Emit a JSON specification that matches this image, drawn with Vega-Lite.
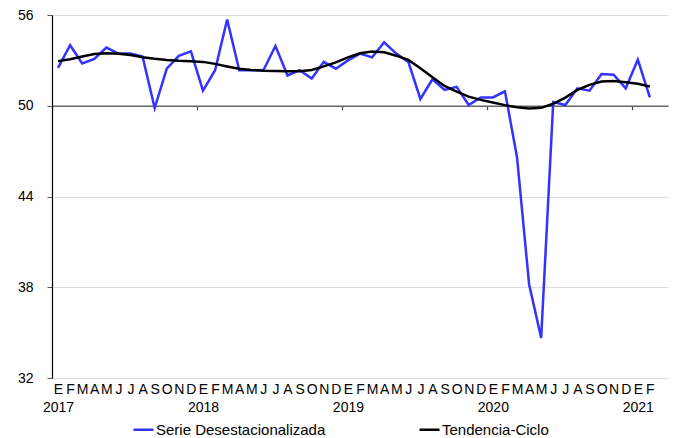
{
  "$schema": "https://vega.github.io/schema/vega-lite/v6.json",
  "width": 616,
  "height": 363,
  "autosize": {"type": "none"},
  "padding": {"left": 52, "top": 15, "right": 8, "bottom": 60},
  "background": "white",
  "config": {
    "view": {"stroke": null},
    "font": "Liberation Sans",
    "axis": {"labelFont": "Liberation Sans", "labelColor": "#000000", "titleFont": "Liberation Sans"},
    "legend": {"labelFont": "Liberation Sans"}
  },
  "data": {
    "values": [
      {"t": "2017-01", "Serie Desestacionalizada": 52.5, "Tendencia-Ciclo": 52.95},
      {"t": "2017-02", "Serie Desestacionalizada": 54.0, "Tendencia-Ciclo": 53.07},
      {"t": "2017-03", "Serie Desestacionalizada": 52.8, "Tendencia-Ciclo": 53.25},
      {"t": "2017-04", "Serie Desestacionalizada": 53.1, "Tendencia-Ciclo": 53.42},
      {"t": "2017-05", "Serie Desestacionalizada": 53.85, "Tendencia-Ciclo": 53.47},
      {"t": "2017-06", "Serie Desestacionalizada": 53.45, "Tendencia-Ciclo": 53.43},
      {"t": "2017-07", "Serie Desestacionalizada": 53.45, "Tendencia-Ciclo": 53.35},
      {"t": "2017-08", "Serie Desestacionalizada": 53.25, "Tendencia-Ciclo": 53.2},
      {"t": "2017-09", "Serie Desestacionalizada": 49.85, "Tendencia-Ciclo": 53.1},
      {"t": "2017-10", "Serie Desestacionalizada": 52.45, "Tendencia-Ciclo": 53.03},
      {"t": "2017-11", "Serie Desestacionalizada": 53.3, "Tendencia-Ciclo": 52.98},
      {"t": "2017-12", "Serie Desestacionalizada": 53.6, "Tendencia-Ciclo": 52.95},
      {"t": "2018-01", "Serie Desestacionalizada": 51.0, "Tendencia-Ciclo": 52.9},
      {"t": "2018-02", "Serie Desestacionalizada": 52.35, "Tendencia-Ciclo": 52.77},
      {"t": "2018-03", "Serie Desestacionalizada": 55.7, "Tendencia-Ciclo": 52.6},
      {"t": "2018-04", "Serie Desestacionalizada": 52.35, "Tendencia-Ciclo": 52.44},
      {"t": "2018-05", "Serie Desestacionalizada": 52.35, "Tendencia-Ciclo": 52.37},
      {"t": "2018-06", "Serie Desestacionalizada": 52.35, "Tendencia-Ciclo": 52.32},
      {"t": "2018-07", "Serie Desestacionalizada": 53.95, "Tendencia-Ciclo": 52.3},
      {"t": "2018-08", "Serie Desestacionalizada": 52.0, "Tendencia-Ciclo": 52.28},
      {"t": "2018-09", "Serie Desestacionalizada": 52.35, "Tendencia-Ciclo": 52.28},
      {"t": "2018-10", "Serie Desestacionalizada": 51.8, "Tendencia-Ciclo": 52.37},
      {"t": "2018-11", "Serie Desestacionalizada": 52.9, "Tendencia-Ciclo": 52.6},
      {"t": "2018-12", "Serie Desestacionalizada": 52.45, "Tendencia-Ciclo": 52.87},
      {"t": "2019-01", "Serie Desestacionalizada": 53.0, "Tendencia-Ciclo": 53.2},
      {"t": "2019-02", "Serie Desestacionalizada": 53.45, "Tendencia-Ciclo": 53.47},
      {"t": "2019-03", "Serie Desestacionalizada": 53.2, "Tendencia-Ciclo": 53.58},
      {"t": "2019-04", "Serie Desestacionalizada": 54.2, "Tendencia-Ciclo": 53.54},
      {"t": "2019-05", "Serie Desestacionalizada": 53.45, "Tendencia-Ciclo": 53.31},
      {"t": "2019-06", "Serie Desestacionalizada": 52.9, "Tendencia-Ciclo": 53.03},
      {"t": "2019-07", "Serie Desestacionalizada": 50.45, "Tendencia-Ciclo": 52.48},
      {"t": "2019-08", "Serie Desestacionalizada": 51.75, "Tendencia-Ciclo": 51.89},
      {"t": "2019-09", "Serie Desestacionalizada": 51.05, "Tendencia-Ciclo": 51.31},
      {"t": "2019-10", "Serie Desestacionalizada": 51.25, "Tendencia-Ciclo": 50.94},
      {"t": "2019-11", "Serie Desestacionalizada": 50.05, "Tendencia-Ciclo": 50.6},
      {"t": "2019-12", "Serie Desestacionalizada": 50.55, "Tendencia-Ciclo": 50.39},
      {"t": "2020-01", "Serie Desestacionalizada": 50.55, "Tendencia-Ciclo": 50.21},
      {"t": "2020-02", "Serie Desestacionalizada": 50.95, "Tendencia-Ciclo": 50.04},
      {"t": "2020-03", "Serie Desestacionalizada": 46.6, "Tendencia-Ciclo": 49.9},
      {"t": "2020-04", "Serie Desestacionalizada": 38.2, "Tendencia-Ciclo": 49.82},
      {"t": "2020-05", "Serie Desestacionalizada": 34.65, "Tendencia-Ciclo": 49.86},
      {"t": "2020-06", "Serie Desestacionalizada": 50.25, "Tendencia-Ciclo": 50.13},
      {"t": "2020-07", "Serie Desestacionalizada": 50.05, "Tendencia-Ciclo": 50.54},
      {"t": "2020-08", "Serie Desestacionalizada": 51.15, "Tendencia-Ciclo": 51.05},
      {"t": "2020-09", "Serie Desestacionalizada": 51.0, "Tendencia-Ciclo": 51.38},
      {"t": "2020-10", "Serie Desestacionalizada": 52.1, "Tendencia-Ciclo": 51.6},
      {"t": "2020-11", "Serie Desestacionalizada": 52.05, "Tendencia-Ciclo": 51.64},
      {"t": "2020-12", "Serie Desestacionalizada": 51.15, "Tendencia-Ciclo": 51.56},
      {"t": "2021-01", "Serie Desestacionalizada": 53.05, "Tendencia-Ciclo": 51.45},
      {"t": "2021-02", "Serie Desestacionalizada": 50.55, "Tendencia-Ciclo": 51.27}
    ]
  },
  "transform": [
    {"fold": ["Serie Desestacionalizada", "Tendencia-Ciclo"], "as": ["serie", "valor"]}
  ],
  "mark": {"type": "line", "strokeWidth": 2.5},
  "encoding": {
    "x": {
      "field": "t",
      "type": "ordinal",
      "sort": null,
      "scale": {
        "type": "band",
        "paddingInner": 0,
        "paddingOuter": 0,
        "domain": ["2017-01","2017-02","2017-03","2017-04","2017-05","2017-06","2017-07","2017-08","2017-09","2017-10","2017-11","2017-12","2018-01","2018-02","2018-03","2018-04","2018-05","2018-06","2018-07","2018-08","2018-09","2018-10","2018-11","2018-12","2019-01","2019-02","2019-03","2019-04","2019-05","2019-06","2019-07","2019-08","2019-09","2019-10","2019-11","2019-12","2020-01","2020-02","2020-03","2020-04","2020-05","2020-06","2020-07","2020-08","2020-09","2020-10","2020-11","2020-12","2021-01","2021-02","2021-03"]
      },
      "axis": {
        "title": null,
        "orient": "bottom",
        "offset": -272.25,
        "domainColor": "#666666",
        "domainWidth": 1.5,
        "grid": false,
        "tickColor": "#444444",
        "tickWidth": 1.2,
        "tickSize": 4,
        "tickOffset": -6.04,
        "labelOffset": 6.04,
        "tickOpacity": {"condition": {"test": "substring(datum.value, 5, 7) == '01'", "value": 1}, "value": 0},
        "labelPadding": 273,
        "labelFontSize": 14,
        "labelLineHeight": 18,
        "labelAngle": 0,
        "labelOverlap": false,
        "labelFlush": false,
        "labelBaseline": "top",
        "labelExpr": "datum.value == '2021-03' ? '' : (substring(datum.value, 5, 7) == '01' ? ['E', substring(datum.value, 0, 4)] : ['E','F','M','A','M','J','J','A','S','O','N','D'][toNumber(substring(datum.value, 5, 7)) - 1])"
      }
    },
    "y": {
      "field": "valor",
      "type": "quantitative",
      "scale": {"domain": [32, 56], "nice": false, "zero": false},
      "axis": {
        "title": null,
        "values": [32, 38, 44, 50, 56],
        "grid": true,
        "gridColor": "#dddddd",
        "gridWidth": 1.2,
        "domainColor": "#000000",
        "domainWidth": 1.2,
        "tickColor": "#555555",
        "tickSize": 5,
        "labelPadding": 14,
        "labelFontSize": 14
      }
    },
    "color": {
      "field": "serie",
      "type": "nominal",
      "scale": {"domain": ["Serie Desestacionalizada", "Tendencia-Ciclo"], "range": ["#3333ff", "#000000"]},
      "legend": {
        "title": null,
        "orient": "none",
        "legendX": 80,
        "legendY": 403,
        "direction": "horizontal",
        "symbolType": "stroke",
        "symbolSize": 400,
        "symbolStrokeWidth": 2.5,
        "labelFontSize": 15,
        "labelLimit": 0,
        "labelOffset": 1,
        "columnPadding": 88
      }
    }
  }
}
